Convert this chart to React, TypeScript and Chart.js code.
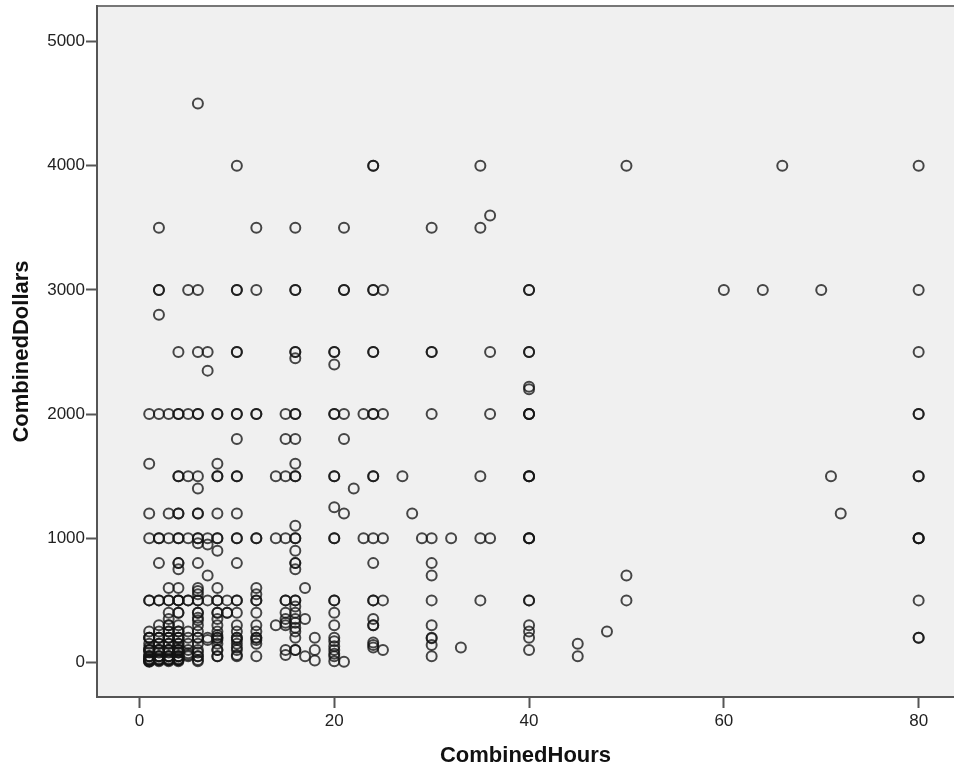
import React, { useEffect, useRef } from "react";
import { Chart, registerables } from "chart.js";

Chart.register(...registerables);

const hourTicks = [0, 20, 40, 60, 80];
const dollarTicks = [0, 1000, 2000, 3000, 4000, 5000];
const xTitle = "CombinedHours";
const yTitle = "CombinedDollars";

const hoursKeys = [1, 2, 3, 4, 5, 6, 7, 8, 9, 10, 12, 14, 15, 16, 17, 18, 20, 21, 22, 23, 24, 25, 27, 28, 29, 30, 32, 33, 35, 36, 40, 45, 48, 50, 60, 64, 66, 70, 71, 72, 80];

const h1 = [2000, 1600, 1200, 1000, 500, 500, 250, 200, 200, 200, 150, 120, 100, 100, 100, 80, 50, 50, 50, 30, 20, 20, 20, 10, 10, 5];
const h2 = [3500, 3000, 3000, 2800, 2000, 1000, 1000, 800, 500, 500, 300, 250, 200, 200, 200, 150, 150, 100, 100, 100, 80, 50, 50, 50, 30, 20, 20, 20, 10];
const h3 = [2000, 1200, 1000, 600, 500, 500, 400, 350, 300, 300, 250, 250, 200, 200, 200, 150, 150, 100, 100, 100, 80, 50, 50, 50, 30, 20, 20, 20, 10];
const h4 = [2500, 2000, 2000, 1500, 1500, 1200, 1200, 1000, 1000, 800, 800, 750, 600, 500, 500, 500, 400, 400, 300, 250, 250, 200, 200, 200, 150, 150, 120, 100, 100, 100, 80, 80, 50, 50, 50, 30, 20, 20, 20, 10];
const h5 = [3000, 2000, 1500, 1000, 500, 500, 250, 200, 150, 100, 75, 60, 50];
const h6 = [4500, 3000, 2500, 2000, 2000, 1500, 1400, 1200, 1200, 1000, 1000, 960, 800, 600, 575, 550, 500, 500, 400, 400, 360, 340, 300, 250, 200, 200, 150, 100, 80, 50, 50, 20, 10];
const h7 = [2500, 2350, 1000, 950, 700, 500, 200, 180];
const h8 = [2000, 2000, 1600, 1500, 1500, 1200, 1000, 1000, 900, 600, 500, 500, 400, 400, 350, 300, 250, 220, 200, 200, 180, 150, 100, 100, 50, 50];
const h9 = [500, 400, 400];
const h10 = [4000, 3000, 3000, 2500, 2500, 2000, 2000, 1800, 1500, 1500, 1200, 1000, 1000, 800, 500, 500, 400, 300, 250, 200, 200, 180, 150, 120, 100, 60, 50];
const h12 = [3500, 3000, 2000, 2000, 1000, 1000, 600, 550, 500, 500, 400, 300, 250, 200, 200, 180, 150, 50];
const h14 = [1500, 1000, 300];
const h15 = [2000, 1800, 1500, 1000, 500, 500, 400, 350, 320, 300, 100, 60];
const h16 = [3500, 3000, 3000, 2500, 2500, 2450, 2000, 2000, 1800, 1600, 1500, 1500, 1100, 1000, 1000, 900, 800, 800, 750, 500, 500, 450, 400, 350, 320, 280, 250, 200, 100, 100];
const h17 = [600, 350, 50];
const h18 = [200, 100, 15];
const h20 = [2500, 2500, 2400, 2000, 2000, 1500, 1500, 1250, 1000, 1000, 500, 500, 400, 300, 200, 170, 130, 100, 70, 50, 10];
const h21 = [3500, 3000, 3000, 2000, 1800, 1200, 5];
const h22 = [1400];
const h23 = [2000, 1000];
const h24 = [4000, 4000, 3000, 3000, 2500, 2500, 2000, 2000, 1500, 1500, 1000, 800, 500, 500, 350, 300, 300, 160, 140, 120];
const h25 = [3000, 2000, 1000, 500, 100];
const h27 = [1500];
const h28 = [1200];
const h29 = [1000];
const h30 = [3500, 2500, 2500, 2000, 1000, 800, 700, 500, 300, 200, 195, 140, 50];
const h32 = [1000];
const h33 = [120];
const h35 = [4000, 3500, 1500, 1000, 500];
const h36 = [3600, 2500, 2000, 1000];
const h40 = [3000, 3000, 2500, 2500, 2220, 2200, 2000, 2000, 2000, 1500, 1500, 1500, 1000, 1000, 1000, 500, 500, 300, 250, 200, 100];
const h45 = [150, 50];
const h48 = [250];
const h50 = [4000, 700, 500];
const h60 = [3000];
const h64 = [3000];
const h66 = [4000];
const h70 = [3000];
const h71 = [1500];
const h72 = [1200];
const h80 = [4000, 3000, 2500, 2000, 2000, 1500, 1500, 1000, 1000, 1000, 500, 200, 200];

const dollarLists = [h1, h2, h3, h4, h5, h6, h7, h8, h9, h10, h12, h14, h15, h16, h17, h18, h20, h21, h22, h23, h24, h25, h27, h28, h29, h30, h32, h33, h35, h36, h40, h45, h48, h50, h60, h64, h66, h70, h71, h72, h80];

const points = hoursKeys.flatMap((x, i) => dollarLists[i].map((y) => ({ x, y })));

const plotBackground = {
  id: "plotBackground",
  beforeDraw(chart: any) {
    const { ctx, chartArea: a } = chart;
    ctx.save();
    ctx.fillStyle = "#f0f0f0";
    ctx.fillRect(a.left, a.top, a.right - a.left, a.bottom - a.top);
    ctx.strokeStyle = "#777777";
    ctx.lineWidth = 2;
    ctx.beginPath();
    ctx.moveTo(a.left, a.top);
    ctx.lineTo(a.right, a.top);
    ctx.stroke();
    ctx.restore();
  },
};

export default function App() {
  const ref = useRef<HTMLCanvasElement>(null);
  useEffect(() => {
    const chart = new Chart(ref.current!, {
      type: "scatter",
      data: {
        datasets: [
          {
            data: points,
            pointRadius: 5,
            pointBorderWidth: 2,
            pointBackgroundColor: "rgba(0,0,0,0)",
            pointBorderColor: "rgba(20,20,20,0.78)",
          },
        ],
      },
      options: {
        responsive: false,
        animation: false,
        layout: { autoPadding: false, padding: { top: 6, right: 0, left: 0, bottom: 0 } },
        plugins: { legend: { display: false }, tooltip: { enabled: false } },
        scales: {
          x: {
            type: "linear",
            min: -4.36,
            max: 83.63,
            afterBuildTicks: (s: any) => {
              s.ticks = hourTicks.map((value) => ({ value }));
            },
            afterFit: (s: any) => {
              s.height = 72;
              s.paddingLeft = 0;
              s.paddingRight = 0;
            },
            grid: { display: true, drawOnChartArea: false, drawTicks: true, tickLength: 11, tickWidth: 2, tickColor: "#555555" },
            border: { display: true, color: "#555555", width: 2 },
            ticks: { color: "#222222", font: { family: "Liberation Sans", size: 17 }, padding: 3, maxRotation: 0, autoSkip: false, callback: (v: any) => String(v) },
            title: { display: true, text: xTitle, color: "#111111", font: { family: "Liberation Sans", size: 22, weight: "bold" }, padding: { top: 6, bottom: 0 } },
          },
          y: {
            type: "linear",
            min: -278,
            max: 5286,
            afterBuildTicks: (s: any) => {
              s.ticks = dollarTicks.map((value) => ({ value }));
            },
            afterFit: (s: any) => {
              s.width = 97;
              s.paddingTop = 0;
              s.paddingBottom = 0;
            },
            grid: { display: true, drawOnChartArea: false, drawTicks: true, tickLength: 11, tickWidth: 2, tickColor: "#555555" },
            border: { display: true, color: "#555555", width: 2 },
            ticks: { color: "#222222", font: { family: "Liberation Sans", size: 17 }, padding: 1, autoSkip: false, callback: (v: any) => String(v) },
            title: { display: true, text: yTitle, color: "#111111", font: { family: "Liberation Sans", size: 22, weight: "bold" }, padding: { top: 9, bottom: 0 } },
          },
        },
      },
      plugins: [plotBackground],
    } as any);
    return () => chart.destroy();
  }, []);
  return (
    <div style={{ position: "absolute", left: 0, top: 0, width: 954, height: 769, background: "#ffffff" }}>
      <canvas ref={ref} width={954} height={769} style={{ display: "block" }} />
    </div>
  );
}
